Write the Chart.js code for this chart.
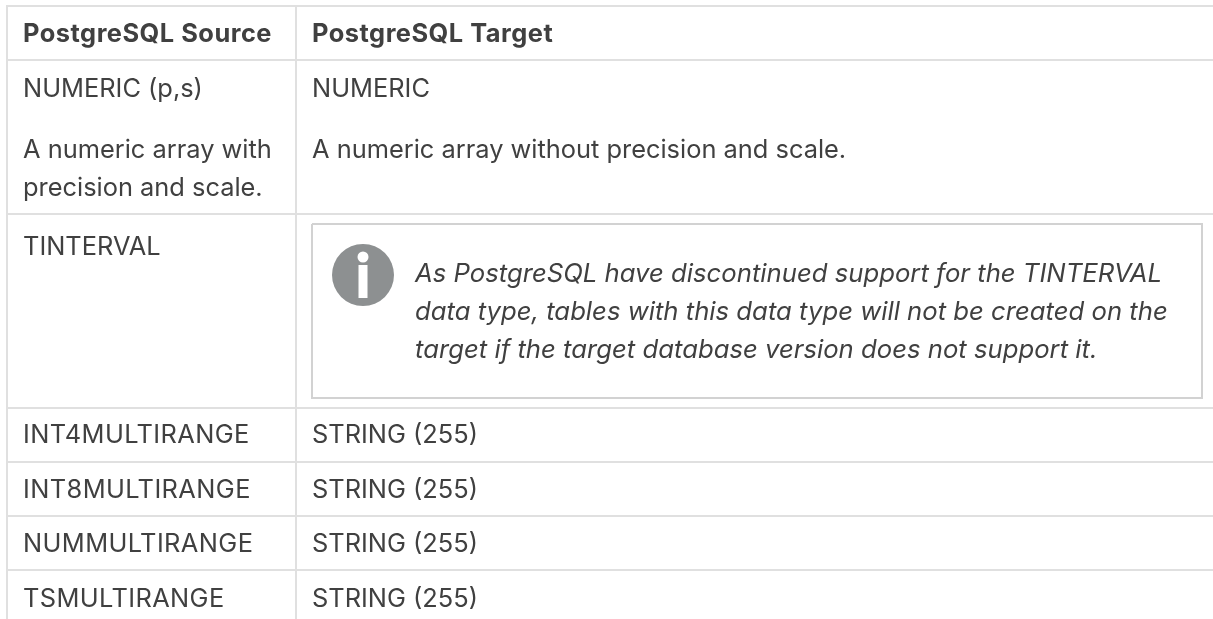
<!DOCTYPE html>
<html>
<head>
<meta charset="utf-8">
<title>PostgreSQL data types</title>
<script src="https://cdn.jsdelivr.net/npm/chart.js@4"></script>
<style>
    html, body { margin: 0; padding: 0; background: #fff; overflow: hidden; }
    canvas { display: block; }
</style>
</head>
<body>
<canvas id="tableChart" width="1213" height="619"></canvas>
<script>
const headers = ['PostgreSQL Source', 'PostgreSQL Target'];
const sourceLines = ['NUMERIC (p,s)', 'A numeric array with', 'precision and scale.', 'TINTERVAL', 'INT4MULTIRANGE', 'INT8MULTIRANGE', 'NUMMULTIRANGE', 'TSMULTIRANGE'];
const targetLines = ['NUMERIC', 'A numeric array without precision and scale.', 'STRING (255)', 'STRING (255)', 'STRING (255)', 'STRING (255)'];
const noteLines = [
    'As PostgreSQL have discontinued support for the TINTERVAL',
    'data type, tables with this data type will not be created on the',
    'target if the target database version does not support it.'
];

// table layout, in axis units (1 unit = 1px)
const columnEdges = [7, 296];
const rowEdges = [6, 60, 214, 408, 462, 516, 570];
const sourceX = 23;
const targetX = 312;
const noteX = 415;
const headerY = 42;
const sourceY = [97, 158, 196, 255, 443, 498, 552, 607];
const targetY = [97, 158, 443, 498, 552, 607];
const noteY = [282, 320, 358];
const boxX = [312, 1202, 1202, 312, 312];
const boxY = [224, 224, 398, 398, 224];

const bodyFont = '400 25.4px Inter';
const boldFont = '700 25.4px Inter';
const italicFont = 'italic 400 25.7px Inter';
const textColor = '#404040';

const textItems = [];
headers.forEach((text, i) => textItems.push({ text, x: i === 0 ? sourceX : targetX, y: headerY, font: boldFont, spacing: '0.5px' }));
// the long upper case names run slightly wider in the reference
sourceLines.forEach((text, i) => textItems.push({ text, x: sourceX, y: sourceY[i], font: bodyFont, spacing: text.endsWith('MULTIRANGE') ? '0.4px' : '0px' }));
targetLines.forEach((text, i) => textItems.push({ text, x: targetX, y: targetY[i], font: bodyFont }));
noteLines.forEach((text, i) => textItems.push({ text, x: noteX, y: noteY[i], font: italicFont }));

const cellText = {
    id: 'cellText',
    afterDatasetsDraw(chart) {
        const { ctx, scales } = chart;
        ctx.save();
        ctx.fillStyle = textColor;
        ctx.textAlign = 'left';
        ctx.textBaseline = 'alphabetic';
        textItems.forEach(item => {
            ctx.font = item.font;
            ctx.letterSpacing = item.spacing || '0px';
            ctx.fillText(item.text, scales.x.getPixelForValue(item.x), scales.y.getPixelForValue(item.y));
        });
        ctx.restore();
    }
};

const gridAxis = (min, max, edges, extra) => Object.assign({
    type: 'linear',
    min: min,
    max: max,
    afterBuildTicks: axis => { axis.ticks = edges.map(value => ({ value })); },
    ticks: { display: false },
    border: { display: false },
    grid: { color: '#e0e0e0', lineWidth: 2, drawTicks: false }
}, extra);

new Chart(document.getElementById('tableChart'), {
    type: 'scatter',
    data: {
        datasets: [
            {
                // note box
                data: boxX.map((x, i) => ({ x, y: boxY[i] })),
                showLine: true,
                borderColor: '#d2d2d2',
                borderWidth: 2,
                pointRadius: 0,
                tension: 0
            },
            {
                // stem of the info icon, listed first so it draws on top
                data: [{ x: 363, y: 265 }, { x: 363, y: 298 }],
                showLine: true,
                borderColor: '#ffffff',
                borderWidth: 9,
                pointRadius: 0,
                order: -2
            },
            {
                // dot of the info icon
                data: [{ x: 363, y: 257 }],
                pointRadius: 5.5,
                pointBackgroundColor: '#ffffff',
                pointBorderWidth: 0,
                order: -1
            },
            {
                // info icon disc
                data: [{ x: 363, y: 275 }],
                pointRadius: 31,
                pointBackgroundColor: '#8d9091',
                pointBorderWidth: 0,
                order: 0
            }
        ]
    },
    plugins: [cellText],
    options: {
        responsive: false,
        animation: false,
        layout: { autoPadding: false, padding: { left: 6, top: 5, right: 0, bottom: 0 } },
        plugins: { legend: { display: false }, tooltip: { enabled: false } },
        scales: {
            x: gridAxis(6, 1213, columnEdges),
            y: gridAxis(5, 619, rowEdges, { reverse: true })
        }
    }
});
</script>
</body>
</html>
